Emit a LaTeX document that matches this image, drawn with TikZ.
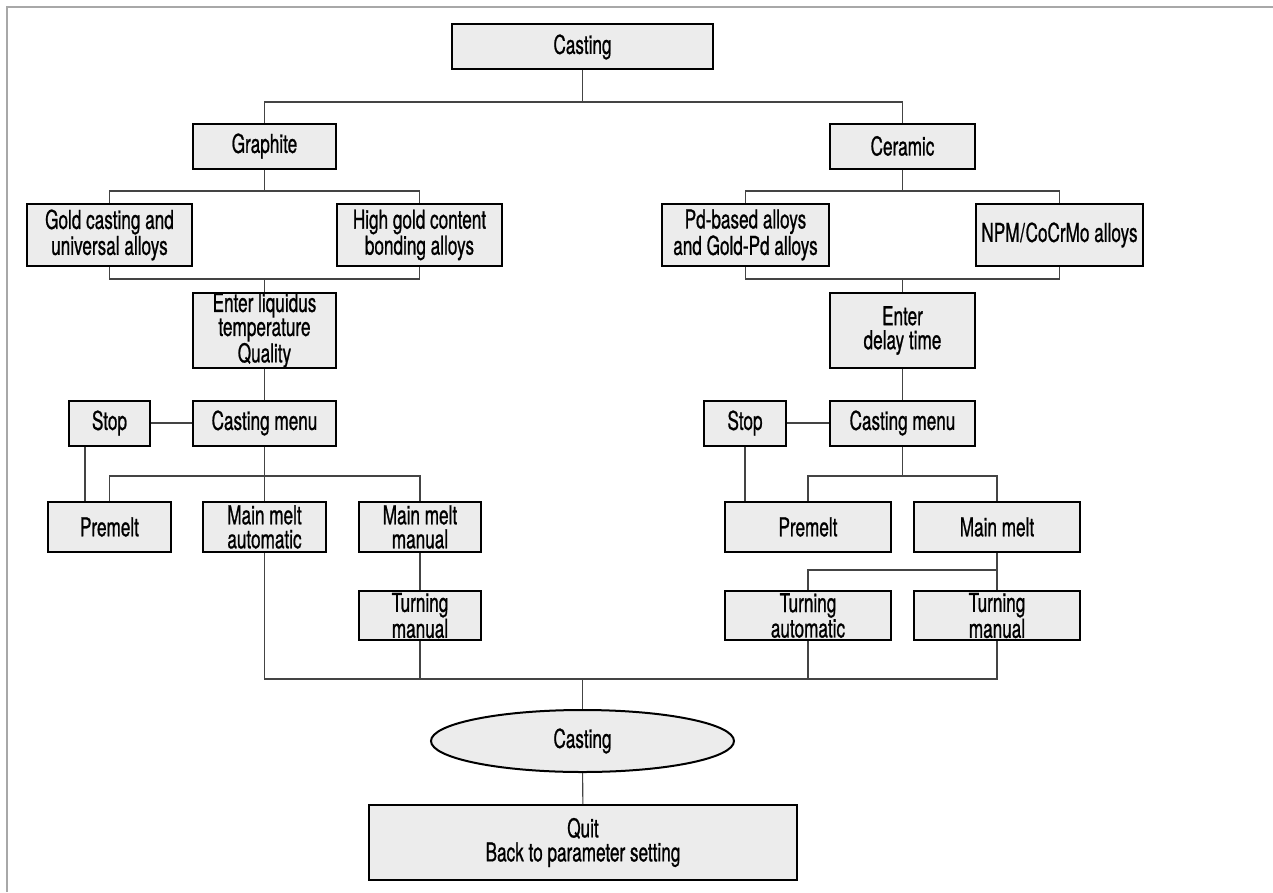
\documentclass[tikz,border=0pt]{standalone}
\usepackage{fontspec}
\setmainfont{TeX Gyre Heros}[FakeStretch=0.66, FakeBold=0.8]
\usetikzlibrary{shapes.geometric}
\definecolor{boxfill}{HTML}{ECECEC}
\definecolor{linec}{HTML}{444444}
\definecolor{framec}{HTML}{A8A8A8}
\tikzset{
  box/.style={draw=black, line width=1.5pt, fill=boxfill, rectangle, inner sep=0pt, align=center,
    font=\fontsize{19.5}{18}\selectfont},
  oval/.style={draw=black, line width=1.5pt, fill=boxfill, ellipse, inner sep=0pt, align=center,
    font=\fontsize{19.5}{18}\selectfont},
  conn/.style={draw=linec, line width=0.8pt},
}
\begin{document}
\begin{tikzpicture}[x=0.75pt,y=-0.75pt]
\useasboundingbox (0,0) rectangle (1273,892);
% frame
\coordinate (fa) at (7,892);
\coordinate (fb) at (7,7);
\coordinate (fc) at (1273,7);
\draw[framec, line width=1.2pt] (fa) -- (fb) -- (fc);

% nodes
\node[box, minimum width=195.75pt, minimum height=33.75pt] (cast) at (582.5,47) {Casting};
\node[box, minimum width=107.25pt, minimum height=33.75pt] (graph) at (264.5,146) {Graphite};
\node[box, minimum width=108.75pt, minimum height=33.75pt] (ceram) at (902.5,146) {Ceramic};
\node[box, minimum width=123.75pt, minimum height=46.5pt] (gold) at (109.5,235) {Gold casting and\\universal alloys};
\node[box, minimum width=123.75pt, minimum height=46.5pt] (high) at (419.5,235) {High gold content\\bonding alloys};
\node[box, minimum width=125.25pt, minimum height=46.5pt] (pd) at (745.5,235) {Pd-based alloys\\and Gold-Pd alloys};
\node[box, minimum width=125.25pt, minimum height=46.5pt] (npm) at (1059.5,235) {NPM\kern0.5pt/\kern0.5pt CoCrMo alloys};
\node[box, minimum width=107.25pt, minimum height=56.25pt] (liq) at (264.5,330.5) {Enter liquidus\\temperature\\Quality};
\node[box, minimum width=108.75pt, minimum height=56.25pt] (delay) at (902.5,330.5) {Enter\\delay time};
\node[box, minimum width=107.25pt, minimum height=33.75pt] (menuL) at (264.5,423) {Casting menu};
\node[box, minimum width=60.75pt, minimum height=33.75pt] (stopL) at (109.5,423) {Stop};
\node[box, minimum width=108.75pt, minimum height=33.75pt] (menuR) at (902.5,423) {Casting menu};
\node[box, minimum width=61.5pt, minimum height=33.75pt] (stopR) at (745,423) {Stop};
\node[box, minimum width=92.25pt, minimum height=37.5pt] (preL) at (109.5,527) {Premelt};
\node[box, minimum width=92.25pt, minimum height=37.5pt] (mmaL) at (264.5,527) {Main melt\\automatic};
\node[box, minimum width=91.5pt, minimum height=37.5pt] (mmmL) at (420,527) {Main melt\\manual};
\node[box, minimum width=91.5pt, minimum height=36.75pt] (tmL) at (420,615.5) {Turning\\manual};
\node[box, minimum width=124.5pt, minimum height=37.5pt] (preR) at (808,527) {Premelt};
\node[box, minimum width=124.5pt, minimum height=37.5pt] (mmR) at (997,527) {Main melt};
\node[box, minimum width=124.5pt, minimum height=36.75pt] (taR) at (808,615.5) {Turning\\automatic};
\node[box, minimum width=124.5pt, minimum height=36.75pt] (tmR) at (997,615.5) {Turning\\manual};
\node[oval, minimum width=227.25pt, minimum height=46.5pt] (ell) at (582.5,741) {Casting};
\node[box, minimum width=321pt, minimum height=56.25pt] (quit) at (583,842.5) {Quit\\Back to parameter setting};

% junctions
\coordinate (j1) at (582.5,102);
\coordinate (j2) at (264.5,191);
\coordinate (j3) at (264.5,279);
\coordinate (j4) at (902.5,191);
\coordinate (j5) at (902.5,279);
\coordinate (j6) at (264.5,476);
\coordinate (j7) at (582.5,679);
\coordinate (j8) at (902.5,476);
\coordinate (j9) at (997,570);

\begin{scope}[conn]
\draw (cast) -- (j1);
\draw (graph) |- (j1) -| (ceram);
\draw (graph) -- (j2);
\draw (gold) |- (j2) -| (high);
\draw (gold) |- (j3) -| (high);
\draw (j3) -- (liq);
\draw (ceram) -- (j4);
\draw (pd) |- (j4) -| (npm);
\draw (pd) |- (j5) -| (npm);
\draw (j5) -- (delay);
\draw (liq) -- (menuL);
\draw (delay) -- (menuR);
\draw (stopL) -- (menuL);
\draw (stopR) -- (menuR);
\draw ([shift={(-24.5,0)}]stopL.south) -- ([shift={(-24.5,0)}]stopL.south |- preL.north);
\draw (menuL) -- (mmaL);
\draw (preL) |- (j6) -| (mmmL);
\draw (mmmL) -- (tmL);
\draw (mmaL) |- (j7) -| (tmR);
\draw (tmL) -- (tmL |- j7);
\draw (taR) -- (taR |- j7);
\draw (j7) -- (ell);
\draw (ell) -- (quit);
\draw (stopR) -- (stopR |- preR.north);
\draw (menuR) -- (j8);
\draw (preR) |- (j8) -| (mmR);
\draw (mmR) -- (tmR);
\draw (taR) |- (j9);
\end{scope}
\end{tikzpicture}
\end{document}
